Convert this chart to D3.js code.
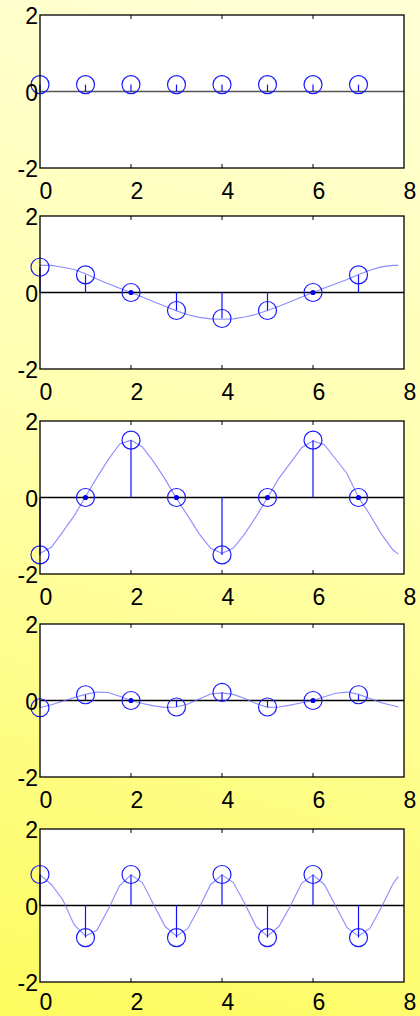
<!DOCTYPE html>
<html>
<head>
<meta charset="utf-8">
<script src="https://cdn.jsdelivr.net/npm/d3@7"></script>
<style>
  html, body { margin: 0; padding: 0; }
  body { width: 420px; height: 1016px; overflow: hidden; }
  svg { display: block; }
</style>
</head>
<body>
<svg id="chart" width="420" height="1016"></svg>
<script>
// Sample index of each stem
const samples = [0, 1, 2, 3, 4, 5, 6, 7];

// Stem values per panel
const stem1 = [0.18, 0.18, 0.18, 0.18, 0.18, 0.18, 0.18, 0.18];
const stem2 = [0.66, 0.46, 0, -0.47, -0.68, -0.47, 0, 0.46];
const stem3 = [-1.5, 0, 1.5, 0, -1.5, 0, 1.5, 0];
const stem4 = [-0.19, 0.15, 0, -0.17, 0.21, -0.17, 0, 0.15];
const stem5 = [0.81, -0.84, 0.81, -0.84, 0.81, -0.84, 0.81, -0.84];

// Positions of the fine reconstruction curves
const curveX = [0, 0.25, 0.5, 0.75, 1, 1.25, 1.5, 1.75, 2, 2.25, 2.5, 2.75, 3, 3.25, 3.5, 3.75,
                4, 4.25, 4.5, 4.75, 5, 5.25, 5.5, 5.75, 6, 6.25, 6.5, 6.75, 7, 7.25, 7.5, 7.75, 7.875];

// Reconstruction curves (panel 1 has none)
const curve2 = [0.71, 0.71, 0.66, 0.6, 0.49, 0.35, 0.23, 0.11, 0.0, -0.12, -0.24, -0.36, -0.48, -0.58, -0.65, -0.69,
                -0.7, -0.69, -0.64, -0.57, -0.47, -0.36, -0.24, -0.12, 0.0, 0.12, 0.23, 0.34, 0.47, 0.58, 0.67, 0.71, 0.71];
const curve3 = [-1.46, -1.3, -0.9, -0.48, 0.02, 0.52, 0.99, 1.4, 1.5, 1.32, 0.93, 0.48, -0.03, -0.48, -0.95, -1.33,
                -1.46, -1.32, -0.95, -0.5, 0.0, 0.5, 0.9, 1.3, 1.48, 1.38, 1.0, 0.62, 0.0, -0.45, -0.95, -1.36, -1.48];
const curve4 = [-0.19, -0.11, -0.02, 0.08, 0.16, 0.22, 0.21, 0.11, 0.0, -0.08, -0.14, -0.18, -0.17, -0.09, 0.04, 0.17,
                0.2, 0.16, 0.05, -0.08, -0.18, -0.17, -0.12, -0.06, 0.0, 0.1, 0.19, 0.22, 0.16, 0.05, -0.06, -0.13, -0.17];
const curve5 = [0.8, 0.55, 0.15, -0.5, -0.8, -0.65, -0.1, 0.52, 0.8, 0.6, 0.02, -0.55, -0.8, -0.6, -0.05, 0.55,
                0.8, 0.6, 0.05, -0.55, -0.8, -0.55, -0.02, 0.58, 0.8, 0.55, -0.02, -0.58, -0.8, -0.6, -0.05, 0.55, 0.76];

// Axis ticks
const xTicks = [0, 2, 4, 6, 8];
const yTicks = [-2, 0, 2];

const panels = [
  { stems: stem1, curve: null },
  { stems: stem2, curve: curve2 },
  { stems: stem3, curve: curve3 },
  { stems: stem4, curve: curve4 },
  { stems: stem5, curve: curve5 }
];

const svg = d3.select("#chart");

// Background gradient, pale at the top right turning stronger yellow toward bottom-left
const defs = svg.append("defs");
const grad = defs.append("linearGradient")
  .attr("id", "bg")
  .attr("gradientUnits", "userSpaceOnUse")
  .attr("x1", 330).attr("y1", 0)
  .attr("x2", 60).attr("y2", 1016);
grad.append("stop").attr("offset", "0%").attr("stop-color", "#ffffd4");
grad.append("stop").attr("offset", "45%").attr("stop-color", "#ffffae");
grad.append("stop").attr("offset", "100%").attr("stop-color", "#fdfb60");
svg.append("rect").attr("width", 420).attr("height", 1016).attr("fill", "url(#bg)");

const left = 40, right = 404, plotH = 153;
const tops = [15, 216, 421, 624, 829];

const x = d3.scaleLinear().domain([0, 8]).range([left, right]);

panels.forEach((p, i) => {
  const top = tops[i];
  const y = d3.scaleLinear().domain([-2, 2]).range([top + plotH, top]);
  const g = svg.append("g");

  // plot area
  g.append("rect")
    .attr("x", left).attr("y", top)
    .attr("width", right - left).attr("height", plotH)
    .attr("fill", "#ffffff");

  // inner ticks on top and bottom edges
  const tickLen = 4;
  xTicks.slice(1, -1).forEach(t => {
    g.append("line").attr("x1", x(t)).attr("x2", x(t))
      .attr("y1", top + plotH).attr("y2", top + plotH - tickLen)
      .attr("stroke", "#000").attr("stroke-width", 1);
    g.append("line").attr("x1", x(t)).attr("x2", x(t))
      .attr("y1", top).attr("y2", top + tickLen)
      .attr("stroke", "#000").attr("stroke-width", 1);
  });

  // baseline at zero
  g.append("line")
    .attr("x1", x(0)).attr("x2", x(8))
    .attr("y1", y(0)).attr("y2", y(0))
    .attr("stroke", i === 0 ? "#555" : "#000")
    .attr("stroke-width", i === 0 ? 1.6 : 1.3);

  // reconstruction curve
  if (p.curve) {
    const line = d3.line().x((d, k) => x(curveX[k])).y(d => y(d));
    g.append("path")
      .datum(p.curve)
      .attr("d", line)
      .attr("fill", "none")
      .attr("stroke", "#6f6fff")
      .attr("stroke-opacity", 0.8)
      .attr("stroke-width", 1.1);
  }

  // stems
  g.selectAll("line.stem").data(p.stems).join("line")
    .attr("class", "stem")
    .attr("x1", (d, k) => x(samples[k])).attr("x2", (d, k) => x(samples[k]))
    .attr("y1", y(0)).attr("y2", d => y(d))
    .attr("stroke", "#1010ff").attr("stroke-width", 1.2);

  // circle markers
  g.selectAll("circle.mark").data(p.stems).join("circle")
    .attr("class", "mark")
    .attr("cx", (d, k) => x(samples[k])).attr("cy", d => y(d))
    .attr("r", 9)
    .attr("fill", "none")
    .attr("stroke", "#1a1aff").attr("stroke-width", 1.2);

  // dot where a sample sits on the baseline
  g.selectAll("circle.zero").data(p.stems.map((d, k) => [samples[k], d]).filter(d => d[1] === 0)).join("circle")
    .attr("class", "zero")
    .attr("cx", d => x(d[0])).attr("cy", d => y(d[1]))
    .attr("r", 2.6)
    .attr("fill", "#0000ee");

  // frame
  g.append("rect")
    .attr("x", left).attr("y", top)
    .attr("width", right - left).attr("height", plotH)
    .attr("fill", "none")
    .attr("stroke", "#000").attr("stroke-width", 1.3);

  // y tick labels
  g.selectAll("text.yl").data(yTicks).join("text")
    .attr("class", "yl")
    .attr("x", 38).attr("y", d => y(d) + 9)
    .attr("text-anchor", "end")
    .attr("font-family", "Liberation Sans, Arial, sans-serif")
    .attr("font-size", 23)
    .attr("fill", "#000")
    .text(d => d);

  // x tick labels; the last row is kept inside the page's bottom edge
  const labelY = Math.min(top + plotH + 31, 1010);
  g.selectAll("text.xl").data(xTicks).join("text")
    .attr("class", "xl")
    .attr("x", d => x(d) + 6).attr("y", labelY)
    .attr("text-anchor", "middle")
    .attr("font-family", "Liberation Sans, Arial, sans-serif")
    .attr("font-size", 23)
    .attr("fill", "#000")
    .text(d => d);
});
</script>
</body>
</html>
